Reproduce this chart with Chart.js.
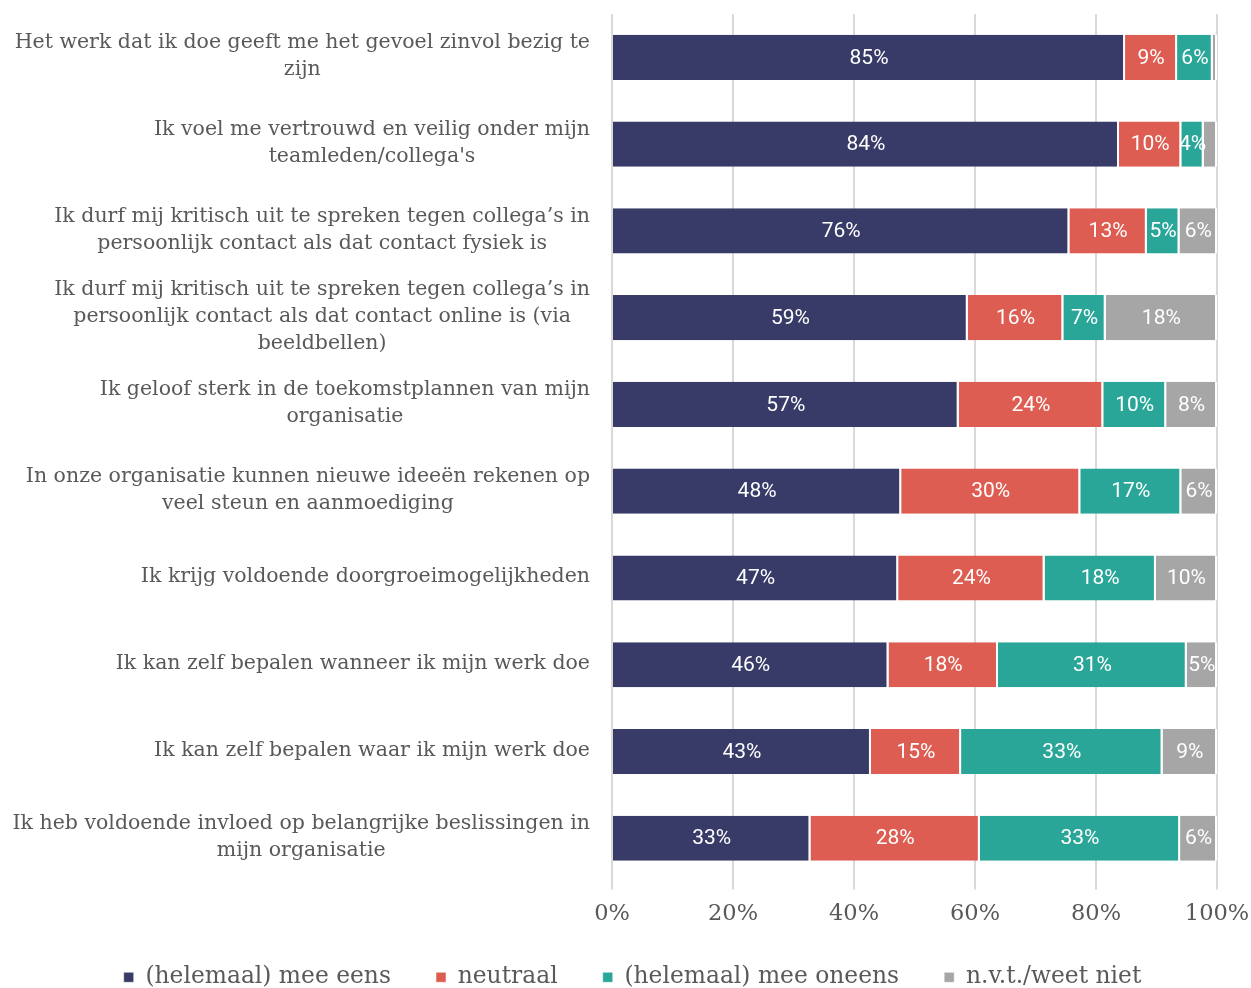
<!DOCTYPE html>
<html>
<head>
  <title>Werkbeleving</title>
  <script src="https://cdn.jsdelivr.net/npm/chart.js"></script>
  <style>
    html, body { margin: 0; padding: 0; background: #fff; }
    #wrap { width: 1251px; height: 988px; }
  </style>
</head>
<body>
  <div id="wrap"><canvas id="myChart"></canvas></div>

  <script>
// Stellingen (labels, al opgeknipt in regels)
const stellingen = [
  ['Het werk dat ik doe geeft me het gevoel zinvol bezig te', 'zijn'],
  ['Ik voel me vertrouwd en veilig onder mijn', "teamleden/collega's"],
  ['Ik durf mij kritisch uit te spreken tegen collega’s in', 'persoonlijk contact als dat contact fysiek is'],
  ['Ik durf mij kritisch uit te spreken tegen collega’s in', 'persoonlijk contact als dat contact online is (via', 'beeldbellen)'],
  ['Ik geloof sterk in de toekomstplannen van mijn', 'organisatie'],
  ['In onze organisatie kunnen nieuwe ideeën rekenen op', 'veel steun en aanmoediging'],
  ['Ik krijg voldoende doorgroeimogelijkheden'],
  ['Ik kan zelf bepalen wanneer ik mijn werk doe'],
  ['Ik kan zelf bepalen waar ik mijn werk doe'],
  ['Ik heb voldoende invloed op belangrijke beslissingen in', 'mijn organisatie']
];

// percentages per antwoordcategorie
const meeEens   = [84.8, 83.8, 75.6, 58.8, 57.3, 47.8, 47.3, 45.7, 42.8, 32.8];
const neutraal  = [8.6, 10.3, 12.8, 15.8, 23.9, 29.6, 24.2, 18.1, 14.9, 28.0];
const meeOneens = [5.9, 3.7, 5.4, 7.0, 10.4, 16.7, 18.4, 31.2, 33.3, 33.1];
const weetNiet  = [0.7, 2.2, 6.2, 18.4, 8.4, 5.9, 10.1, 5.0, 9.0, 6.1];

const xTicks = [0, 20, 40, 60, 80, 100];

const serif = "'DejaVu Serif', serif";
const grijs = '#595959';

// eigen plugin voor de percentages in de balken
const waardeLabels = {
  id: 'waardeLabels',
  afterDatasetsDraw(chart) {
    const ctx = chart.ctx;
    ctx.save();
    ctx.font = "21px Roboto, sans-serif";
    ctx.fillStyle = '#ffffff';
    ctx.textAlign = 'center';
    ctx.textBaseline = 'middle';
    chart.data.datasets.forEach((ds, i) => {
      const meta = chart.getDatasetMeta(i);
      meta.data.forEach((bar, j) => {
        const v = ds.data[j];
        if (v < 3) return;
        ctx.fillText(Math.round(v) + '%', (bar.x + bar.base) / 2, bar.y + 1);
      });
    });
    ctx.restore();
  }
};

// stellingen: blok rechts uitgelijnd, regels gecentreerd binnen het blok
const stellingLabels = {
  id: 'stellingLabels',
  afterDraw(chart) {
    const ctx = chart.ctx;
    const y = chart.scales.y;
    ctx.save();
    ctx.font = "20.5px " + serif;
    ctx.fillStyle = grijs;
    ctx.textAlign = 'center';
    ctx.textBaseline = 'middle';
    stellingen.forEach((regels, i) => {
      const breed = Math.max(...regels.map(r => ctx.measureText(r).width));
      const cx = y.right - 22 - breed / 2;
      const cy = y.getPixelForValue(i) - 1;
      regels.forEach((r, k) => {
        ctx.fillText(r, cx, cy + (k - (regels.length - 1) / 2) * 26.8);
      });
    });
    ctx.restore();
  }
};

const balk = (label, data, kleur) => ({
  label: label,
  data: data,
  backgroundColor: kleur,
  borderColor: '#ffffff',
  borderWidth: { top: 0, bottom: 0, left: 0, right: 2 },
  borderSkipped: false,
  barPercentage: 0.52,
  categoryPercentage: 1
});

const myChart = new Chart(document.getElementById('myChart'), {
  type: 'bar',
  data: {
    labels: stellingen.map(r => r.join(' ')),
    datasets: [
      balk('(helemaal) mee eens', meeEens, '#383b67'),
      balk('neutraal', neutraal, '#de5d52'),
      balk('(helemaal) mee oneens', meeOneens, '#2aa699'),
      balk('n.v.t./weet niet', weetNiet, '#a6a6a6')
    ]
  },
  plugins: [waardeLabels, stellingLabels],
  options: {
    indexAxis: 'y',
    responsive: true,
    maintainAspectRatio: false,
    animation: false,
    layout: { padding: { top: 14, right: 34, left: 48, bottom: -11 } },
    scales: {
      x: {
        stacked: true,
        min: 0,
        max: 100,
        afterBuildTicks: (axis) => { axis.ticks = xTicks.map(v => ({ value: v })); },
        afterFit: (axis) => { axis.height = 74; axis.paddingLeft = 0; axis.paddingRight = 0; },
        grid: { color: '#d9d9d9', lineWidth: 2, tickLength: 8, drawTicks: true },
        border: { display: false },
        ticks: {
          color: grijs,
          font: { family: serif, size: 22.5 },
          padding: 11,
          callback: (v) => v + '%'
        }
      },
      y: {
        stacked: true,
        grid: { display: false, drawTicks: false },
        border: { display: false },
        afterFit: (axis) => { axis.width = 564; axis.paddingTop = 0; axis.paddingBottom = 0; },
        ticks: { display: false }
      }
    },
    plugins: {
      legend: {
        position: 'bottom',
        labels: {
          color: grijs,
          font: { family: serif, size: 23.4 },
          usePointStyle: true,
          pointStyle: 'rect',
          boxWidth: 10,
          boxHeight: 10,
          padding: 10,
          generateLabels: (chart) => {
            const items = Chart.defaults.plugins.legend.labels.generateLabels(chart);
            items.forEach((it, i) => { if (i < items.length - 1) it.text += '\u2002\u2002\u2002'; });
            return items;
          }
        }
      },
      tooltip: { enabled: false }
    }
  }
});
  </script>
</body>
</html>
